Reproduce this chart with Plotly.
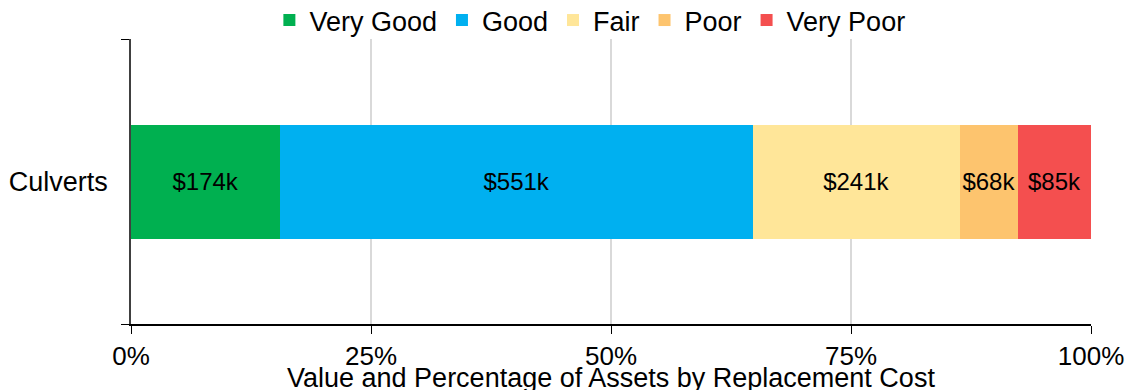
import plotly.graph_objects as go

# Asset condition breakdown for culverts, replacement cost in $k
categories = ["Culverts"]
conditions = ["Very Good", "Good", "Fair", "Poor", "Very Poor"]
values_k = [174, 551, 241, 68, 85]
colors = ["#00B050", "#00B0F0", "#FFE699", "#FDC46E", "#F44F4F"]
x_ticks = [0, 25, 50, 75, 100]
x_tick_labels = ["0%", "25%", "50%", "75%", "100%"]

FONT = "Liberation Sans, Arial, sans-serif"

fig = go.Figure()
for name, val, col in zip(conditions, values_k, colors):
    fig.add_trace(go.Bar(
        y=categories,
        x=[val],
        name=name,
        orientation="h",
        marker=dict(color=col, line=dict(width=0)),
        text=[f"${val}k"],
        textposition="inside",
        insidetextanchor="middle",
        textangle=0,
        constraintext="none",
        textfont=dict(family=FONT, size=24, color="black"),
        hoverinfo="skip",
    ))

fig.update_layout(
    width=1134,
    height=390,
    barmode="stack",
    barnorm="percent",
    bargap=0.6,
    paper_bgcolor="white",
    plot_bgcolor="white",
    margin=dict(l=131, r=43, t=39, b=66, autoexpand=False),
    font=dict(family=FONT, size=24, color="black"),
    showlegend=True,
    legend=dict(
        orientation="h",
        x=0.478, xanchor="center",
        y=0.979, yanchor="bottom",
        font=dict(family=FONT, size=27, color="black"),
        itemsizing="constant",
        traceorder="normal",
        bgcolor="rgba(0,0,0,0)",
    ),
    xaxis=dict(
        range=[0, 100],
        tickvals=x_ticks,
        ticktext=x_tick_labels,
        showgrid=True,
        gridcolor="#d9d9d9",
        gridwidth=1.5,
        zeroline=False,
        showline=True,
        linecolor="black",
        linewidth=1.5,
        ticks="outside",
        ticklen=8,
        tickcolor="black",
        tickfont=dict(family=FONT, size=26, color="black"),
        fixedrange=True,
    ),
    yaxis=dict(
        showline=True,
        linecolor="#404040",
        linewidth=1.5,
        ticks="outside",
        tickson="boundaries",
        ticklen=8,
        tickcolor="black",
        ticklabelstandoff=16,
        showgrid=False,
        tickfont=dict(family=FONT, size=27, color="black"),
        fixedrange=True,
    ),
    annotations=[dict(
        text="Value and Percentage of Assets by Replacement Cost",
        xref="paper", yref="paper",
        x=0.5, y=-0.189,
        xanchor="center", yanchor="middle",
        showarrow=False,
        font=dict(family=FONT, size=27, color="black"),
    )],
)

fig.write_html("out.html")
